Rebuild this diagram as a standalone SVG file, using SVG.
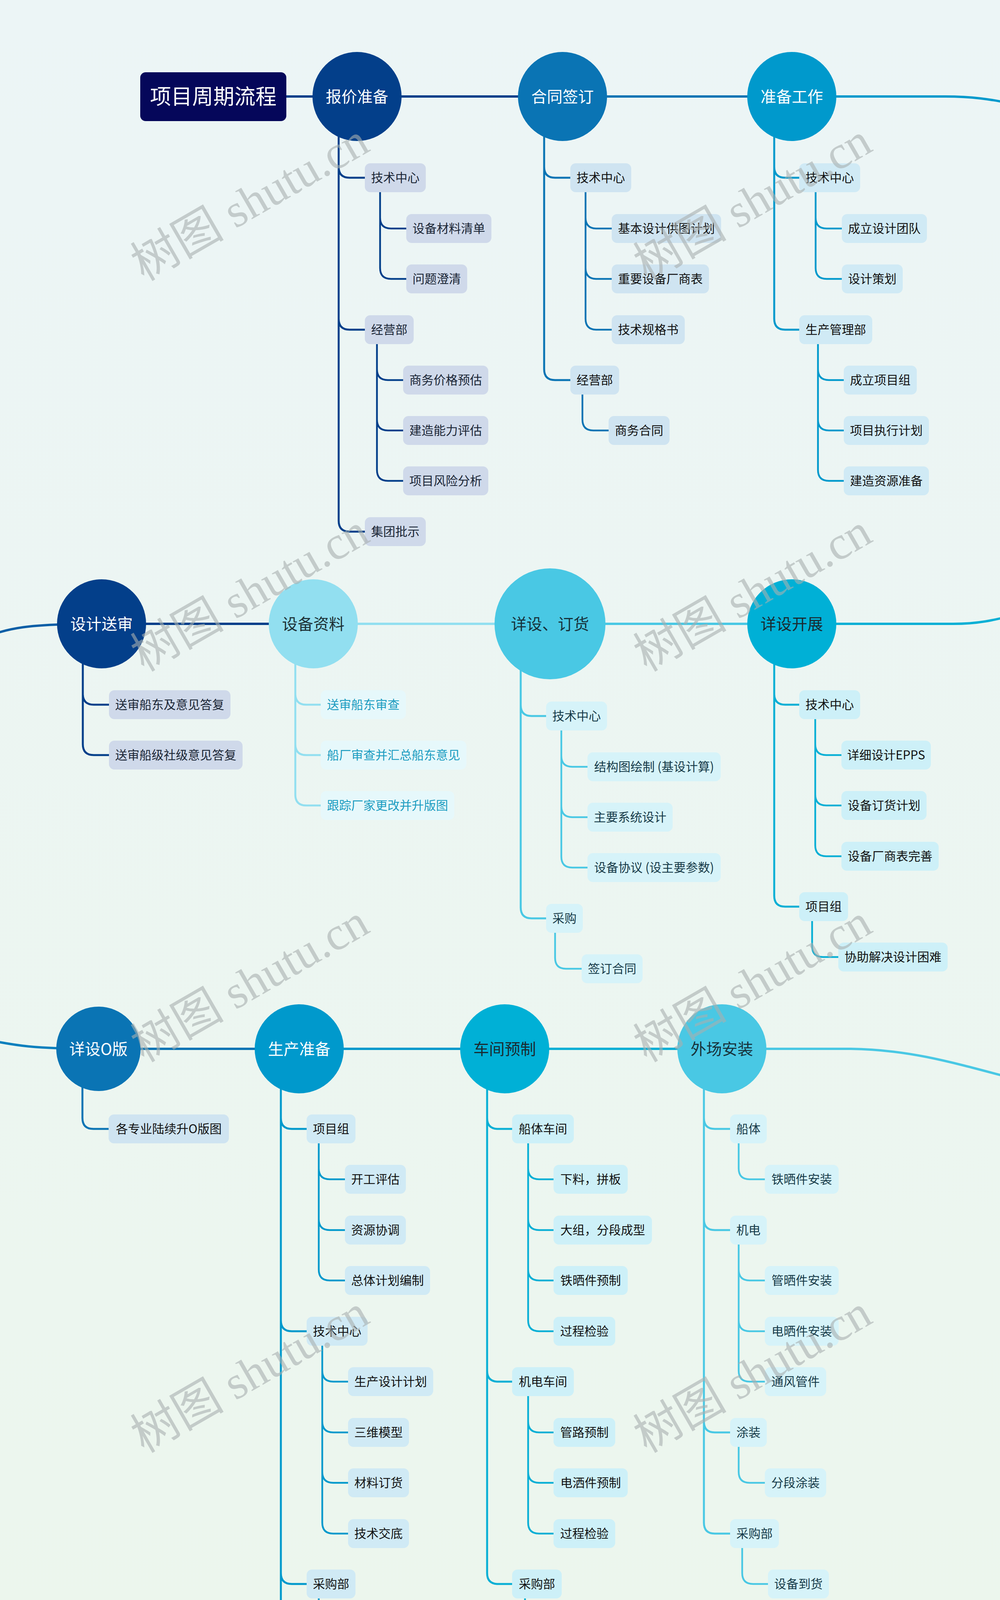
<svg xmlns="http://www.w3.org/2000/svg" width="2560" height="7644" viewBox="0 0 2560 7644">
<defs>
<linearGradient id="bg" x1="0" y1="0" x2="0" y2="1">
<stop offset="0" stop-color="#ecf5f6"/>
<stop offset="0.5" stop-color="#ecf6ee"/>
<stop offset="1" stop-color="#edf8e2"/>
</linearGradient>
<style>
text{font-family:"Noto Sans CJK SC","Noto Sans",sans-serif;text-anchor:middle}
.main path,.conn path{fill:none;stroke-linecap:round}
.main path{stroke-width:6}
.l1{stroke-width:5}
.l2{stroke-width:4.5}
.sD{stroke:#033f8a}.sM{stroke:#0a74b4}.sB{stroke:#0099cc}.sC{stroke:#08afd5}.sS{stroke:#49c8e4}.sL{stroke:#92dff0}
.box rect{rx:14px;ry:14px;height:74px}
.box text{font-size:31px}
.nd text{font-size:40px}
.nD circle{fill:#033f8a}.nM circle{fill:#0a74b4}.nB circle{fill:#0099cc}.nC circle{fill:#00b0d6}.nS circle{fill:#49c8e4}.nL circle{fill:#92dff0}
.nD text,.nM text,.nB text{fill:#ffffff}
.nC text{fill:#1a2a30}.nS text{fill:#17323b}.nL text{fill:#1d3136}
.bD rect{fill:#cfd9ea}.bD text{fill:#1a2535}
.bM rect{fill:#cfe4f1}.bM text{fill:#111111}
.bB rect{fill:#d0eaf5}.bB text{fill:#111111}
.bC rect{fill:#cdf0f8}.bC text{fill:#111111}
.bS rect{fill:#d6f3f9}.bS text{fill:#163a48}
.bL rect{fill:#e6f8fb}.bL text{fill:#1b9cc0}
.wm text{font-family:"Liberation Serif","Noto Sans CJK SC",serif;font-size:120px;fill:#a9b0b0;opacity:0.6}
</style>
</defs>
<rect x="0" y="0" width="2560" height="7644" fill="url(#bg)"/>

<g id="main-line" class="main">
<path class="sD" d="M733,247H914"/>
<path class="sD" d="M914,247H1440"/>
<path class="sM" d="M1440,247H2027"/>
<path class="sB" d="M2027,247H2420C2480,247 2535,252 2620,272"/>
<path stroke="#0a5ea6" d="M-60,1640C20,1606 70,1597 260,1597"/>
<path class="sD" d="M260,1597H802"/>
<path class="sL" d="M802,1597H1408"/>
<path class="sS" d="M1408,1597H2027"/>
<path class="sC" d="M2027,1597H2440C2500,1597 2540,1590 2620,1568"/>
<path stroke="#0a7fbd" d="M-60,2656C40,2678 90,2685 252,2685"/>
<path class="sM" d="M252,2685H766"/>
<path class="sB" d="M766,2685H1292"/>
<path class="sC" d="M1292,2685H1848"/>
<path class="sS" d="M1848,2685H2178C2330,2687 2440,2720 2620,2768"/>
<path stroke="#20a8d6" d="M-60,4935C40,4920 80,4912 247,4912"/>
<path class="sB" d="M247,4912H858"/>
<path class="sM" d="M858,4912H1340"/>
<path class="sD" d="M1340,4912H1849"/>
<path class="sL" d="M1849,4912H2123C2300,4912 2430,4885 2620,4820"/>
<path stroke="#1ab2d8" d="M-60,6462C30,6480 80,6489 247,6489"/>
<path class="sC" d="M247,6489H766"/>
</g>

<g id="connectors" class="conn">
<path class="l1 sD" d="M867,247V427Q867,455 895,455H934M867,247V816Q867,844 895,844H934M867,247V1333Q867,1361 895,1361H934"/>
<path class="l2 sD" d="M973,455V557Q973,585 1001,585H1040M973,455V686Q973,714 1001,714H1040"/>
<path class="l2 sD" d="M965,844V945Q965,973 993,973H1032M965,844V1074Q965,1102 993,1102H1032M965,844V1203Q965,1231 993,1231H1032"/>
<path class="l1 sM" d="M1393,247V427Q1393,455 1421,455H1460M1393,247V945Q1393,973 1421,973H1460"/>
<path class="l2 sM" d="M1499,455V557Q1499,585 1527,585H1566M1499,455V686Q1499,714 1527,714H1566M1499,455V816Q1499,844 1527,844H1566"/>
<path class="l2 sM" d="M1491,973V1074Q1491,1102 1519,1102H1558"/>
<path class="l1 sB" d="M1982,247V427Q1982,455 2010,455H2046M1982,247V816Q1982,844 2010,844H2046"/>
<path class="l2 sB" d="M2088,455V557Q2088,585 2116,585H2155M2088,455V686Q2088,714 2116,714H2155"/>
<path class="l2 sB" d="M2094,844V945Q2094,973 2122,973H2160M2094,844V1074Q2094,1102 2122,1102H2160M2094,844V1203Q2094,1231 2122,1231H2160"/>

<path class="l1 sD" d="M212,1597V1776Q212,1804 240,1804H279M212,1597V1905Q212,1933 240,1933H279"/>
<path class="l1 sL" d="M756,1597V1776Q756,1804 784,1804H821M756,1597V1905Q756,1933 784,1933H821M756,1597V2034Q756,2062 784,2062H821"/>
<path class="l1 sS" d="M1333,1597V1805Q1333,1833 1361,1833H1398M1333,1597V2323Q1333,2351 1361,2351H1398"/>
<path class="l2 sS" d="M1437,1833V1935Q1437,1963 1465,1963H1504M1437,1833V2064Q1437,2092 1465,2092H1504M1437,1833V2193Q1437,2221 1465,2221H1504"/>
<path class="l2 sS" d="M1421,2351V2452Q1421,2480 1449,2480H1489"/>
<path class="l1 sC" d="M1982,1597V1776Q1982,1804 2010,1804H2046M1982,1597V2293Q1982,2321 2010,2321H2046"/>
<path class="l2 sC" d="M2087,1804V1905Q2087,1933 2115,1933H2154M2087,1804V2034Q2087,2062 2115,2062H2154M2087,1804V2164Q2087,2192 2115,2192H2154"/>
<path class="l2 sC" d="M2079,2321V2422Q2079,2450 2107,2450H2146"/>

<path class="l1 sM" d="M211,2685V2862Q211,2890 239,2890H278"/>
<path class="l1 sB" d="M719,2685V2862Q719,2890 747,2890H785M719,2685V3380Q719,3408 747,3408H785M719,2685V4027Q719,4055 747,4055H785M719,2685V4416Q719,4444 747,4444H785M719,2685V4545Q719,4573 747,4573H785M719,2685V4675Q719,4703 747,4703H785"/>
<path class="l2 sB" d="M816,2890V2991Q816,3019 844,3019H883M816,2890V3121Q816,3149 844,3149H883M816,2890V3250Q816,3278 844,3278H883"/>
<path class="l2 sB" d="M825,3408V3509Q825,3537 853,3537H891M825,3408V3639Q825,3667 853,3667H891M825,3408V3768Q825,3796 853,3796H891M825,3408V3898Q825,3926 853,3926H891"/>
<path class="l2 sB" d="M816,4055V4157Q816,4185 844,4185H883M816,4055V4286Q816,4314 844,4314H883"/>
<path class="l1 sC" d="M1247,2685V2862Q1247,2890 1275,2890H1311M1247,2685V3509Q1247,3537 1275,3537H1311M1247,2685V4027Q1247,4055 1275,4055H1311"/>
<path class="l2 sC" d="M1352,2890V2991Q1352,3019 1380,3019H1417M1352,2890V3121Q1352,3149 1380,3149H1417M1352,2890V3250Q1352,3278 1380,3278H1417M1352,2890V3380Q1352,3408 1380,3408H1417"/>
<path class="l2 sC" d="M1352,3537V3639Q1352,3667 1380,3667H1417M1352,3537V3768Q1352,3796 1380,3796H1417M1352,3537V3898Q1352,3926 1380,3926H1417"/>
<path class="l2 sC" d="M1344,4055V4157Q1344,4185 1372,4185H1410M1344,4055V4286Q1344,4314 1372,4314H1410"/>
<path class="l1 sS" d="M1802,2685V2862Q1802,2890 1830,2890H1869M1802,2685V3121Q1802,3149 1830,3149H1869M1802,2685V3639Q1802,3667 1830,3667H1869M1802,2685V3898Q1802,3926 1830,3926H1869"/>
<path class="l2 sS" d="M1891,2890V2991Q1891,3019 1919,3019H1958M1891,3149V3250Q1891,3278 1919,3278H1958M1891,3149V3380Q1891,3408 1919,3408H1958M1891,3149V3509Q1891,3537 1919,3537H1958M1891,3667V3768Q1891,3796 1919,3796H1958M1900,3926V4027Q1900,4055 1928,4055H1966"/>

<path class="l1 sB" d="M201,4912V5092Q201,5120 229,5120H268M201,4912V5480Q201,5508 229,5508H268M201,4912V5867Q201,5895 229,5895H268"/>
<path class="l2 sB" d="M307,5120V5222Q307,5250 335,5250H374M307,5120V5351Q307,5379 335,5379H374"/>
<path class="l2 sB" d="M299,5508V5609Q299,5637 327,5637H366M299,5508V5738Q299,5766 327,5766H366"/>
<path class="l2 sB" d="M299,5895V5996Q299,6024 327,6024H366M299,5895V6126Q299,6154 327,6154H366M299,5895V6255Q299,6283 327,6283H366"/>
<path class="l1 sM" d="M812,4912V5092Q812,5120 840,5120H879M812,4912V5222Q812,5250 840,5250H879M812,4912V5351Q812,5379 840,5379H879M812,4912V5480Q812,5508 840,5508H879"/>
<path class="l1 sD" d="M1293,4912V5092Q1293,5120 1321,5120H1360M1293,4912V5609Q1293,5637 1321,5637H1360"/>
<path class="l2 sD" d="M1383,5120V5222Q1383,5250 1411,5250H1450M1383,5120V5351Q1383,5379 1411,5379H1450M1383,5120V5480Q1383,5508 1411,5508H1450"/>
<path class="l2 sD" d="M1383,5637V5738Q1383,5766 1411,5766H1450M1383,5637V5867Q1383,5895 1411,5895H1450"/>
<path class="l1 sL" d="M1803,4912V5092Q1803,5120 1831,5120H1868M1803,4912V5222Q1803,5250 1831,5250H1868M1803,4912V5351Q1803,5379 1831,5379H1868M1803,4912V5480Q1803,5508 1831,5508H1868"/>

<path class="l1 sC" d="M201,6489V6670Q201,6698 229,6698H268M201,6489V7058Q201,7086 229,7086H268M201,6489V7317Q201,7345 229,7345H268"/>
<path class="l2 sC" d="M299,6698V6799Q299,6827 327,6827H366M299,6698V6929Q299,6957 327,6957H366"/>
<path class="l2 sC" d="M299,7086V7188Q299,7216 327,7216H366"/>
<path class="l2 sC" d="M307,7345V7446Q307,7474 335,7474H374"/>
<path class="l1 sS" d="M720,6489V6670Q720,6698 748,6698H785M720,6489V6799Q720,6827 748,6827H785M720,6489V6929Q720,6957 748,6957H785"/>
</g>

<g id="root"><rect x="359" y="185" width="374" height="125" rx="14" fill="#05075a"/><text x="546" y="267" font-size="54" fill="#ffffff">项目周期流程</text></g>

<g id="n-baojia" class="nd nD"><circle cx="914" cy="247" r="114"/><text x="914" y="262">报价准备</text></g>
<g id="n-hetong" class="nd nM"><circle cx="1440" cy="247" r="114"/><text x="1440" y="262">合同签订</text></g>
<g id="n-zhunbei" class="nd nB"><circle cx="2027" cy="247" r="114"/><text x="2027" y="262">准备工作</text></g>
<g id="n-songshen" class="nd nD"><circle cx="260" cy="1597" r="114"/><text x="260" y="1612">设计送审</text></g>
<g id="n-shebei" class="nd nL"><circle cx="802" cy="1597" r="114"/><text x="802" y="1612">设备资料</text></g>
<g id="n-xiangshe" class="nd nS"><circle cx="1408" cy="1597" r="142"/><text x="1408" y="1612">详设、订货</text></g>
<g id="n-kaizhan" class="nd nC"><circle cx="2027" cy="1597" r="114"/><text x="2027" y="1612">详设开展</text></g>
<g id="n-oban" class="nd nM"><circle cx="252" cy="2685" r="108"/><text x="252" y="2700">详设O版</text></g>
<g id="n-shengchan" class="nd nB"><circle cx="766" cy="2685" r="114"/><text x="766" y="2700">生产准备</text></g>
<g id="n-chejian" class="nd nC"><circle cx="1292" cy="2685" r="114"/><text x="1292" y="2700">车间预制</text></g>
<g id="n-waichang" class="nd nS"><circle cx="1848" cy="2685" r="114"/><text x="1848" y="2700">外场安装</text></g>
<g id="n-jiaofu" class="nd nB"><circle cx="247" cy="4912" r="114"/><text x="247" y="4927">项目交付</text></g>
<g id="n-tiaoshi" class="nd nM"><circle cx="858" cy="4912" r="114"/><text x="858" y="4927">系统调试</text></g>
<g id="n-matou" class="nd nD"><circle cx="1340" cy="4912" r="114"/><text x="1340" y="4927">码头试验</text></g>
<g id="n-helong" class="nd nL"><circle cx="1849" cy="4912" r="114"/><text x="1849" y="4927">船台合拢</text></g>
<g id="n-weibao" class="nd nC"><circle cx="247" cy="6489" r="114"/><text x="247" y="6504">船舶维保</text></g>
<g id="n-jieshu" class="nd nS"><circle cx="766" cy="6489" r="114"/><text x="766" y="6504">项目结束</text></g>

<g id="a1-1" class="box bD"><rect x="934" y="418" width="156"/><text x="1012" y="466">技术中心</text></g>
<g id="a1-1-1" class="box bD"><rect x="1040" y="548" width="218"/><text x="1149" y="596">设备材料清单</text></g>
<g id="a1-1-2" class="box bD"><rect x="1040" y="677" width="156"/><text x="1118" y="725">问题澄清</text></g>
<g id="a1-2" class="box bD"><rect x="934" y="807" width="125"/><text x="996.5" y="855">经营部</text></g>
<g id="a1-2-1" class="box bD"><rect x="1032" y="936" width="218"/><text x="1141" y="984">商务价格预估</text></g>
<g id="a1-2-2" class="box bD"><rect x="1032" y="1065" width="218"/><text x="1141" y="1113">建造能力评估</text></g>
<g id="a1-2-3" class="box bD"><rect x="1032" y="1194" width="218"/><text x="1141" y="1242">项目风险分析</text></g>
<g id="a1-3" class="box bD"><rect x="934" y="1324" width="156"/><text x="1012" y="1372">集团批示</text></g>

<g id="a2-1" class="box bM"><rect x="1460" y="418" width="156"/><text x="1538" y="466">技术中心</text></g>
<g id="a2-1-1" class="box bM"><rect x="1566" y="548" width="280"/><text x="1706" y="596">基本设计供图计划</text></g>
<g id="a2-1-2" class="box bM"><rect x="1566" y="677" width="249"/><text x="1690.5" y="725">重要设备厂商表</text></g>
<g id="a2-1-3" class="box bM"><rect x="1566" y="807" width="187"/><text x="1659.5" y="855">技术规格书</text></g>
<g id="a2-2" class="box bM"><rect x="1460" y="936" width="125"/><text x="1522.5" y="984">经营部</text></g>
<g id="a2-2-1" class="box bM"><rect x="1558" y="1065" width="156"/><text x="1636" y="1113">商务合同</text></g>

<g id="a3-1" class="box bB"><rect x="2046" y="418" width="156"/><text x="2124" y="466">技术中心</text></g>
<g id="a3-1-1" class="box bB"><rect x="2155" y="548" width="218"/><text x="2264" y="596">成立设计团队</text></g>
<g id="a3-1-2" class="box bB"><rect x="2155" y="677" width="156"/><text x="2233" y="725">设计策划</text></g>
<g id="a3-2" class="box bB"><rect x="2046" y="807" width="187"/><text x="2139.5" y="855">生产管理部</text></g>
<g id="a3-2-1" class="box bB"><rect x="2160" y="936" width="187"/><text x="2253.5" y="984">成立项目组</text></g>
<g id="a3-2-2" class="box bB"><rect x="2160" y="1065" width="218"/><text x="2269" y="1113">项目执行计划</text></g>
<g id="a3-2-3" class="box bB"><rect x="2160" y="1194" width="218"/><text x="2269" y="1242">建造资源准备</text></g>

<g id="b1-1" class="box bD"><rect x="279" y="1767" width="311"/><text x="434.5" y="1815">送审船东及意见答复</text></g>
<g id="b1-2" class="box bD"><rect x="279" y="1896" width="342"/><text x="450" y="1944">送审船级社级意见答复</text></g>
<g id="b2-1" class="box bL"><rect x="821" y="1767" width="218"/><text x="930" y="1815">送审船东审查</text></g>
<g id="b2-2" class="box bL"><rect x="821" y="1896" width="373"/><text x="1007.5" y="1944">船厂审查并汇总船东意见</text></g>
<g id="b2-3" class="box bL"><rect x="821" y="2025" width="342"/><text x="992" y="2073">跟踪厂家更改并升版图</text></g>
<g id="b3-1" class="box bS"><rect x="1398" y="1796" width="156"/><text x="1476" y="1844">技术中心</text></g>
<g id="b3-1-1" class="box bS"><rect x="1504" y="1926" width="341"/><text x="1674.5" y="1974">结构图绘制 (基设计算)</text></g>
<g id="b3-1-2" class="box bS"><rect x="1504" y="2055" width="218"/><text x="1613" y="2103">主要系统设计</text></g>
<g id="b3-1-3" class="box bS"><rect x="1504" y="2184" width="341"/><text x="1674.5" y="2232">设备协议 (设主要参数)</text></g>
<g id="b3-2" class="box bS"><rect x="1398" y="2314" width="94"/><text x="1445" y="2362">采购</text></g>
<g id="b3-2-1" class="box bS"><rect x="1489" y="2443" width="156"/><text x="1567" y="2491">签订合同</text></g>
<g id="b4-1" class="box bC"><rect x="2046" y="1767" width="156"/><text x="2124" y="1815">技术中心</text></g>
<g id="b4-1-1" class="box bC"><rect x="2154" y="1896" width="229"/><text x="2268.5" y="1944">详细设计EPPS</text></g>
<g id="b4-1-2" class="box bC"><rect x="2154" y="2025" width="218"/><text x="2263" y="2073">设备订货计划</text></g>
<g id="b4-1-3" class="box bC"><rect x="2154" y="2155" width="249"/><text x="2278.5" y="2203">设备厂商表完善</text></g>
<g id="b4-2" class="box bC"><rect x="2046" y="2284" width="125"/><text x="2108.5" y="2332">项目组</text></g>
<g id="b4-2-1" class="box bC"><rect x="2146" y="2413" width="280"/><text x="2286" y="2461">协助解决设计困难</text></g>

<g id="c1-1" class="box bM"><rect x="278" y="2853" width="308"/><text x="432" y="2901">各专业陆续升O版图</text></g>
<g id="c2-1" class="box bB"><rect x="785" y="2853" width="125"/><text x="847.5" y="2901">项目组</text></g>
<g id="c2-1-1" class="box bB"><rect x="883" y="2982" width="156"/><text x="961" y="3030">开工评估</text></g>
<g id="c2-1-2" class="box bB"><rect x="883" y="3112" width="156"/><text x="961" y="3160">资源协调</text></g>
<g id="c2-1-3" class="box bB"><rect x="883" y="3241" width="218"/><text x="992" y="3289">总体计划编制</text></g>
<g id="c2-2" class="box bB"><rect x="785" y="3371" width="156"/><text x="863" y="3419">技术中心</text></g>
<g id="c2-2-1" class="box bB"><rect x="891" y="3500" width="218"/><text x="1000" y="3548">生产设计计划</text></g>
<g id="c2-2-2" class="box bB"><rect x="891" y="3630" width="156"/><text x="969" y="3678">三维模型</text></g>
<g id="c2-2-3" class="box bB"><rect x="891" y="3759" width="156"/><text x="969" y="3807">材料订货</text></g>
<g id="c2-2-4" class="box bB"><rect x="891" y="3889" width="156"/><text x="969" y="3937">技术交底</text></g>
<g id="c2-3" class="box bB"><rect x="785" y="4018" width="125"/><text x="847.5" y="4066">采购部</text></g>
<g id="c2-3-1" class="box bB"><rect x="883" y="4148" width="156"/><text x="961" y="4196">设备跟踪</text></g>
<g id="c2-3-2" class="box bB"><rect x="883" y="4277" width="156"/><text x="961" y="4325">材料订货</text></g>
<g id="c2-4" class="box bB"><rect x="785" y="4407" width="327"/><text x="948.5" y="4455">车间-人力、场地准备</text></g>
<g id="c2-5" class="box bB"><rect x="785" y="4536" width="309"/><text x="939.5" y="4584">品质--检验文件准备</text></g>
<g id="c2-6" class="box bB"><rect x="785" y="4666" width="185"/><text x="877.5" y="4714">仓库--集配</text></g>

<g id="c3-1" class="box bC"><rect x="1311" y="2853" width="158"/><text x="1390" y="2901">船体车间</text></g>
<g id="c3-1-1" class="box bC"><rect x="1417" y="2982" width="190"/><text x="1512" y="3030">下料，拼板</text></g>
<g id="c3-1-2" class="box bC"><rect x="1417" y="3112" width="252"/><text x="1543" y="3160">大组，分段成型</text></g>
<g id="c3-1-3" class="box bC"><rect x="1417" y="3241" width="190"/><text x="1512" y="3289">铁晒件预制</text></g>
<g id="c3-1-4" class="box bC"><rect x="1417" y="3371" width="158"/><text x="1496" y="3419">过程检验</text></g>
<g id="c3-2" class="box bC"><rect x="1311" y="3500" width="158"/><text x="1390" y="3548">机电车间</text></g>
<g id="c3-2-1" class="box bC"><rect x="1417" y="3630" width="158"/><text x="1496" y="3678">管路预制</text></g>
<g id="c3-2-2" class="box bC"><rect x="1417" y="3759" width="190"/><text x="1512" y="3807">电洒件预制</text></g>
<g id="c3-2-3" class="box bC"><rect x="1417" y="3889" width="158"/><text x="1496" y="3937">过程检验</text></g>
<g id="c3-3" class="box bC"><rect x="1311" y="4018" width="127"/><text x="1374.5" y="4066">采购部</text></g>
<g id="c3-3-1" class="box bC"><rect x="1410" y="4148" width="152"/><text x="1486" y="4196">设备FAT</text></g>
<g id="c3-3-2" class="box bC"><rect x="1410" y="4277" width="157"/><text x="1488.5" y="4325">材料跟踪</text></g>

<g id="c4-1" class="box bS"><rect x="1869" y="2853" width="94"/><text x="1916" y="2901">船体</text></g>
<g id="c4-1-1" class="box bS"><rect x="1958" y="2982" width="189"/><text x="2052.5" y="3030">铁晒件安装</text></g>
<g id="c4-2" class="box bS"><rect x="1869" y="3112" width="94"/><text x="1916" y="3160">机电</text></g>
<g id="c4-2-1" class="box bS"><rect x="1958" y="3241" width="189"/><text x="2052.5" y="3289">管晒件安装</text></g>
<g id="c4-2-2" class="box bS"><rect x="1958" y="3371" width="189"/><text x="2052.5" y="3419">电晒件安装</text></g>
<g id="c4-2-3" class="box bS"><rect x="1958" y="3500" width="157"/><text x="2036.5" y="3548">通风管件</text></g>
<g id="c4-3" class="box bS"><rect x="1869" y="3630" width="94"/><text x="1916" y="3678">涂装</text></g>
<g id="c4-3-1" class="box bS"><rect x="1958" y="3759" width="157"/><text x="2036.5" y="3807">分段涂装</text></g>
<g id="c4-4" class="box bS"><rect x="1869" y="3889" width="125"/><text x="1931.5" y="3937">采购部</text></g>
<g id="c4-4-1" class="box bS"><rect x="1966" y="4018" width="156"/><text x="2044" y="4066">设备到货</text></g>

<g id="d1-1" class="box bB"><rect x="268" y="5083" width="156"/><text x="346" y="5131">技术中心</text></g>
<g id="d1-1-1" class="box bB"><rect x="374" y="5213" width="218"/><text x="483" y="5261">设备资料交付</text></g>
<g id="d1-1-2" class="box bB"><rect x="374" y="5342" width="218"/><text x="483" y="5390">完工图纸交付</text></g>
<g id="d1-2" class="box bB"><rect x="268" y="5471" width="125"/><text x="330.5" y="5519">品质部</text></g>
<g id="d1-2-1" class="box bB"><rect x="366" y="5600" width="249"/><text x="490.5" y="5648">证书收集与交付</text></g>
<g id="d1-2-2" class="box bB"><rect x="366" y="5729" width="218"/><text x="475" y="5777">报检文件交付</text></g>
<g id="d1-3" class="box bB"><rect x="268" y="5858" width="125"/><text x="330.5" y="5906">项目组</text></g>
<g id="d1-3-1" class="box bB"><rect x="366" y="5987" width="218"/><text x="475" y="6035">备品备件上船</text></g>
<g id="d1-3-2" class="box bB"><rect x="366" y="6117" width="156"/><text x="444" y="6165">工具上船</text></g>
<g id="d1-3-3" class="box bB"><rect x="366" y="6246" width="310"/><text x="521" y="6294">联系拖航事宜 (如需)</text></g>
<g id="d2-1" class="box bM"><rect x="879" y="5083" width="218"/><text x="988" y="5131">试验大纲准备</text></g>
<g id="d2-2" class="box bM"><rect x="879" y="5213" width="218"/><text x="988" y="5261">设备负荷试验</text></g>
<g id="d2-3" class="box bM"><rect x="879" y="5342" width="218"/><text x="988" y="5390">系统功能试验</text></g>
<g id="d2-4" class="box bM"><rect x="879" y="5471" width="280"/><text x="1019" y="5519">海工产品性能试验</text></g>
<g id="d3-1" class="box bD"><rect x="1360" y="5083" width="94"/><text x="1407" y="5131">船体</text></g>
<g id="d3-1-1" class="box bD"><rect x="1450" y="5213" width="218"/><text x="1559" y="5261">舱室密性试验</text></g>
<g id="d3-1-2" class="box bD"><rect x="1450" y="5342" width="218"/><text x="1559" y="5390">舱室强度试验</text></g>
<g id="d3-1-3" class="box bD"><rect x="1450" y="5471" width="218"/><text x="1559" y="5519">门的密性试验</text></g>
<g id="d3-2" class="box bD"><rect x="1360" y="5600" width="94"/><text x="1407" y="5648">机电</text></g>
<g id="d3-2-1" class="box bD"><rect x="1450" y="5729" width="156"/><text x="1528" y="5777">管路清洁</text></g>
<g id="d3-2-2" class="box bD"><rect x="1450" y="5858" width="218"/><text x="1559" y="5906">管路压力试验</text></g>
<g id="d4-1" class="box bL"><rect x="1868" y="5083" width="156"/><text x="1946" y="5131">船体车间</text></g>
<g id="d4-2" class="box bL"><rect x="1868" y="5213" width="156"/><text x="1946" y="5261">机电车间</text></g>
<g id="d4-3" class="box bL"><rect x="1868" y="5342" width="156"/><text x="1946" y="5390">涂装车间</text></g>
<g id="d4-4" class="box bL"><rect x="1868" y="5471" width="311"/><text x="2023.5" y="5519">组织船东，船检报检</text></g>

<g id="e1-1" class="box bC"><rect x="268" y="6661" width="125"/><text x="330.5" y="6709">经营部</text></g>
<g id="e1-1-1" class="box bC"><rect x="366" y="6790" width="218"/><text x="475" y="6838">接受船东反馈</text></g>
<g id="e1-1-2" class="box bC"><rect x="366" y="6920" width="218"/><text x="475" y="6968">跟踪维保情况</text></g>
<g id="e1-2" class="box bC"><rect x="268" y="7049" width="125"/><text x="330.5" y="7097">项目组</text></g>
<g id="e1-2-1" class="box bC"><rect x="366" y="7179" width="156"/><text x="444" y="7227">组织维保</text></g>
<g id="e1-3" class="box bC"><rect x="268" y="7308" width="156"/><text x="346" y="7356">其他部门</text></g>
<g id="e1-3-1" class="box bC"><rect x="374" y="7437" width="156"/><text x="452" y="7485">配合维保</text></g>
<g id="e2-1" class="box bS"><rect x="785" y="6661" width="218"/><text x="894" y="6709">项目经济核算</text></g>
<g id="e2-2" class="box bS"><rect x="785" y="6790" width="156"/><text x="863" y="6838">项目归档</text></g>
<g id="e2-3" class="box bS"><rect x="785" y="6920" width="156"/><text x="863" y="6968">项目总结</text></g>

<g id="watermarks" class="wm">
<text x="640" y="558" transform="rotate(-30 640 518)">树图 shutu.cn</text>
<text x="1927" y="558" transform="rotate(-30 1927 518)">树图 shutu.cn</text>
<text x="640" y="1558" transform="rotate(-30 640 1518)">树图 shutu.cn</text>
<text x="1927" y="1558" transform="rotate(-30 1927 1518)">树图 shutu.cn</text>
<text x="640" y="2558" transform="rotate(-30 640 2518)">树图 shutu.cn</text>
<text x="1927" y="2558" transform="rotate(-30 1927 2518)">树图 shutu.cn</text>
<text x="640" y="3558" transform="rotate(-30 640 3518)">树图 shutu.cn</text>
<text x="1927" y="3558" transform="rotate(-30 1927 3518)">树图 shutu.cn</text>
<text x="640" y="4558" transform="rotate(-30 640 4518)">树图 shutu.cn</text>
<text x="1927" y="4558" transform="rotate(-30 1927 4518)">树图 shutu.cn</text>
<text x="640" y="5558" transform="rotate(-30 640 5518)">树图 shutu.cn</text>
<text x="1927" y="5558" transform="rotate(-30 1927 5518)">树图 shutu.cn</text>
<text x="640" y="6558" transform="rotate(-30 640 6518)">树图 shutu.cn</text>
<text x="1927" y="6558" transform="rotate(-30 1927 6518)">树图 shutu.cn</text>
<text x="640" y="7558" transform="rotate(-30 640 7518)">树图 shutu.cn</text>
<text x="1927" y="7558" transform="rotate(-30 1927 7518)">树图 shutu.cn</text>
</g>
</svg>
